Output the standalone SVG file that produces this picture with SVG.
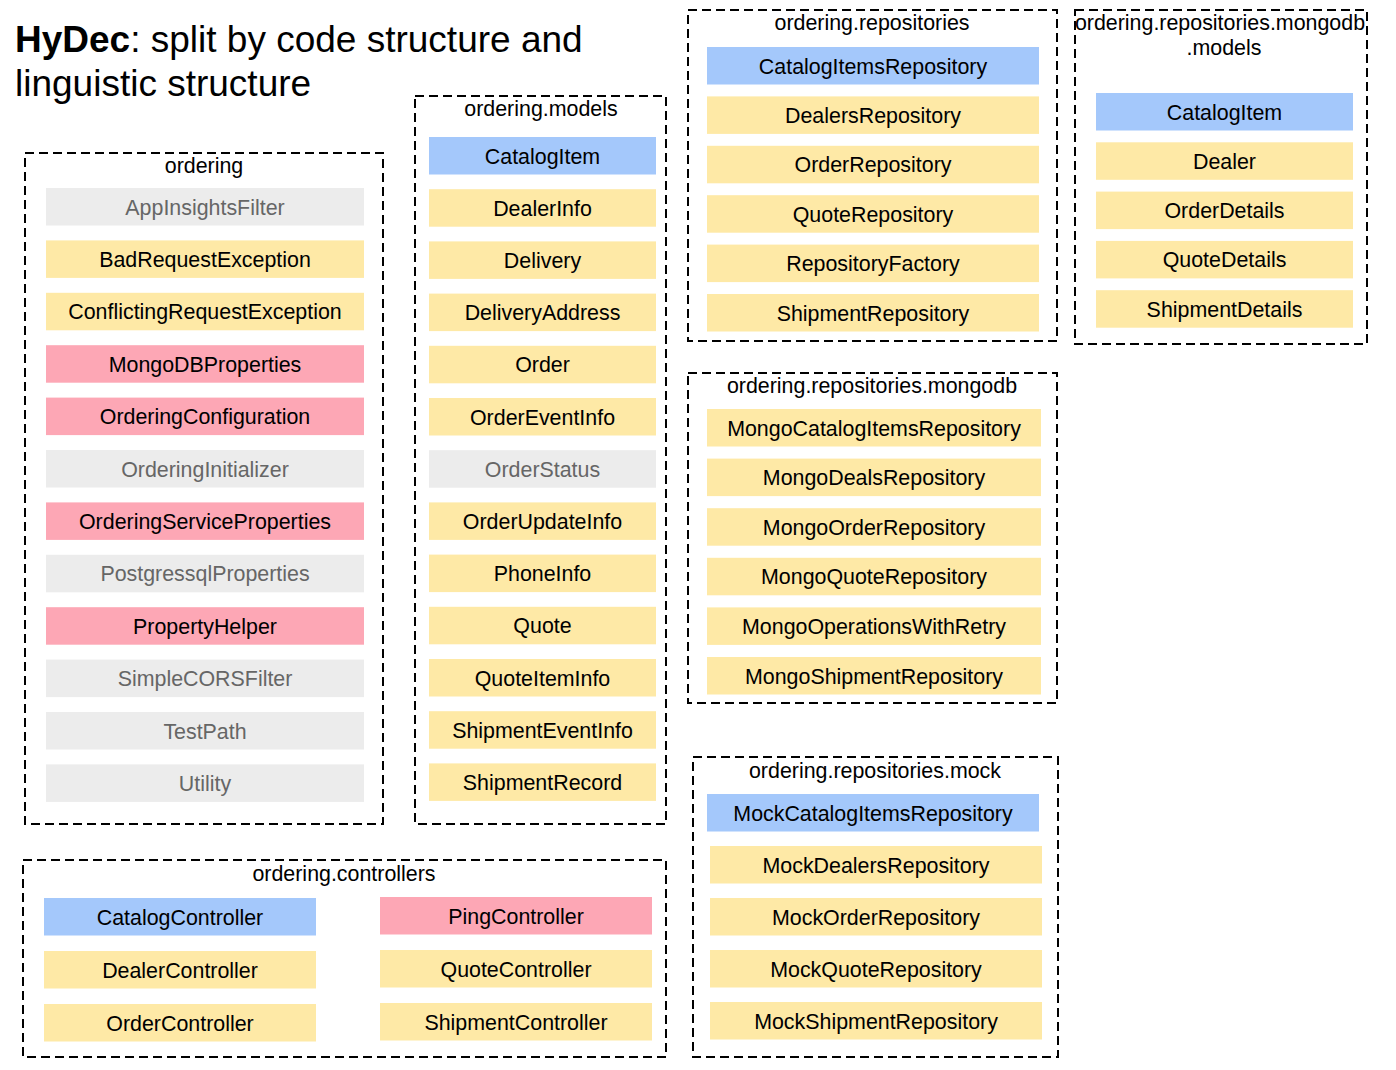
<svg xmlns="http://www.w3.org/2000/svg" width="1396" height="1070" viewBox="0 0 1396 1070">
<style>
text{font-family:"Liberation Sans",Arial,sans-serif;font-size:21.4px;fill:#000;text-anchor:middle}
.c{fill:none;stroke:#000;stroke-width:2;stroke-dasharray:9 5}
.b{fill:#a4c8fb}
.y{fill:#fee9a6}
.p{fill:#fda7b5}
.g{fill:#ececec}
.gt{fill:#666}
.h{font-size:37px;text-anchor:start}
</style>
<rect width="1396" height="1070" fill="#fff"/>
<g id="title">
<text class="h" x="15" y="52"><tspan font-weight="bold">HyDec</tspan>: split by code structure and</text>
<text class="h" x="15" y="96">linguistic structure</text>
</g>
<g id="connectors"></g>

<g id="ordering">
<rect class="c" x="25" y="153" width="358" height="671"/>
<text x="204" y="173">ordering</text>
<g id="AppInsightsFilter"><rect class="g" x="46" y="188" width="318" height="37.5"/><text class="gt" x="205" y="214.5">AppInsightsFilter</text></g>
<g id="BadRequestException"><rect class="y" x="46" y="240.4" width="318" height="37.5"/><text x="205" y="266.9">BadRequestException</text></g>
<g id="ConflictingRequestException"><rect class="y" x="46" y="292.8" width="318" height="37.5"/><text x="205" y="319.3">ConflictingRequestException</text></g>
<g id="MongoDBProperties"><rect class="p" x="46" y="345.2" width="318" height="37.5"/><text x="205" y="371.7">MongoDBProperties</text></g>
<g id="OrderingConfiguration"><rect class="p" x="46" y="397.6" width="318" height="37.5"/><text x="205" y="424.1">OrderingConfiguration</text></g>
<g id="OrderingInitializer"><rect class="g" x="46" y="450" width="318" height="37.5"/><text class="gt" x="205" y="476.5">OrderingInitializer</text></g>
<g id="OrderingServiceProperties"><rect class="p" x="46" y="502.4" width="318" height="37.5"/><text x="205" y="528.9">OrderingServiceProperties</text></g>
<g id="PostgressqlProperties"><rect class="g" x="46" y="554.8" width="318" height="37.5"/><text class="gt" x="205" y="581.3">PostgressqlProperties</text></g>
<g id="PropertyHelper"><rect class="p" x="46" y="607.2" width="318" height="37.5"/><text x="205" y="633.7">PropertyHelper</text></g>
<g id="SimpleCORSFilter"><rect class="g" x="46" y="659.6" width="318" height="37.5"/><text class="gt" x="205" y="686.1">SimpleCORSFilter</text></g>
<g id="TestPath"><rect class="g" x="46" y="712" width="318" height="37.5"/><text class="gt" x="205" y="738.5">TestPath</text></g>
<g id="Utility"><rect class="g" x="46" y="764.4" width="318" height="37.5"/><text class="gt" x="205" y="790.9">Utility</text></g>
</g>

<g id="ordering.models">
<rect class="c" x="415" y="96" width="251" height="728"/>
<text x="541" y="116">ordering.models</text>
<g id="models.CatalogItem"><rect class="b" x="429" y="137" width="227" height="37.5"/><text x="542.5" y="163.5">CatalogItem</text></g>
<g id="DealerInfo"><rect class="y" x="429" y="189.2" width="227" height="37.5"/><text x="542.5" y="215.7">DealerInfo</text></g>
<g id="Delivery"><rect class="y" x="429" y="241.4" width="227" height="37.5"/><text x="542.5" y="267.9">Delivery</text></g>
<g id="DeliveryAddress"><rect class="y" x="429" y="293.6" width="227" height="37.5"/><text x="542.5" y="320.1">DeliveryAddress</text></g>
<g id="Order"><rect class="y" x="429" y="345.8" width="227" height="37.5"/><text x="542.5" y="372.3">Order</text></g>
<g id="OrderEventInfo"><rect class="y" x="429" y="398" width="227" height="37.5"/><text x="542.5" y="424.5">OrderEventInfo</text></g>
<g id="OrderStatus"><rect class="g" x="429" y="450.2" width="227" height="37.5"/><text class="gt" x="542.5" y="476.7">OrderStatus</text></g>
<g id="OrderUpdateInfo"><rect class="y" x="429" y="502.4" width="227" height="37.5"/><text x="542.5" y="528.9">OrderUpdateInfo</text></g>
<g id="PhoneInfo"><rect class="y" x="429" y="554.6" width="227" height="37.5"/><text x="542.5" y="581.1">PhoneInfo</text></g>
<g id="Quote"><rect class="y" x="429" y="606.8" width="227" height="37.5"/><text x="542.5" y="633.3">Quote</text></g>
<g id="QuoteItemInfo"><rect class="y" x="429" y="659" width="227" height="37.5"/><text x="542.5" y="685.5">QuoteItemInfo</text></g>
<g id="ShipmentEventInfo"><rect class="y" x="429" y="711.2" width="227" height="37.5"/><text x="542.5" y="737.7">ShipmentEventInfo</text></g>
<g id="ShipmentRecord"><rect class="y" x="429" y="763.4" width="227" height="37.5"/><text x="542.5" y="789.9">ShipmentRecord</text></g>
</g>

<g id="ordering.repositories">
<rect class="c" x="688" y="10" width="369" height="331"/>
<text x="872" y="30">ordering.repositories</text>
<g id="CatalogItemsRepository"><rect class="b" x="707" y="47" width="332" height="37.5"/><text x="873" y="73.5">CatalogItemsRepository</text></g>
<g id="DealersRepository"><rect class="y" x="707" y="96.4" width="332" height="37.5"/><text x="873" y="122.9">DealersRepository</text></g>
<g id="OrderRepository"><rect class="y" x="707" y="145.8" width="332" height="37.5"/><text x="873" y="172.3">OrderRepository</text></g>
<g id="QuoteRepository"><rect class="y" x="707" y="195.2" width="332" height="37.5"/><text x="873" y="221.7">QuoteRepository</text></g>
<g id="RepositoryFactory"><rect class="y" x="707" y="244.6" width="332" height="37.5"/><text x="873" y="271.1">RepositoryFactory</text></g>
<g id="ShipmentRepository"><rect class="y" x="707" y="294" width="332" height="37.5"/><text x="873" y="320.5">ShipmentRepository</text></g>
</g>

<g id="ordering.repositories.mongodb.models">
<rect class="c" x="1075" y="10" width="292" height="334"/>
<text x="1220" y="30">ordering.repositories.mongodb</text>
<text x="1224" y="55">.models</text>
<g id="mongodb.models.CatalogItem"><rect class="b" x="1096" y="93" width="257" height="37.5"/><text x="1224.5" y="119.5">CatalogItem</text></g>
<g id="Dealer"><rect class="y" x="1096" y="142.3" width="257" height="37.5"/><text x="1224.5" y="168.8">Dealer</text></g>
<g id="OrderDetails"><rect class="y" x="1096" y="191.6" width="257" height="37.5"/><text x="1224.5" y="218.1">OrderDetails</text></g>
<g id="QuoteDetails"><rect class="y" x="1096" y="240.9" width="257" height="37.5"/><text x="1224.5" y="267.4">QuoteDetails</text></g>
<g id="ShipmentDetails"><rect class="y" x="1096" y="290.2" width="257" height="37.5"/><text x="1224.5" y="316.7">ShipmentDetails</text></g>
</g>

<g id="ordering.repositories.mongodb">
<rect class="c" x="688" y="373" width="369" height="330"/>
<text x="872" y="393">ordering.repositories.mongodb</text>
<g id="MongoCatalogItemsRepository"><rect class="y" x="707" y="409" width="334" height="37.5"/><text x="874" y="435.5">MongoCatalogItemsRepository</text></g>
<g id="MongoDealsRepository"><rect class="y" x="707" y="458.6" width="334" height="37.5"/><text x="874" y="485.1">MongoDealsRepository</text></g>
<g id="MongoOrderRepository"><rect class="y" x="707" y="508.2" width="334" height="37.5"/><text x="874" y="534.7">MongoOrderRepository</text></g>
<g id="MongoQuoteRepository"><rect class="y" x="707" y="557.8" width="334" height="37.5"/><text x="874" y="584.3">MongoQuoteRepository</text></g>
<g id="MongoOperationsWithRetry"><rect class="y" x="707" y="607.4" width="334" height="37.5"/><text x="874" y="633.9">MongoOperationsWithRetry</text></g>
<g id="MongoShipmentRepository"><rect class="y" x="707" y="657" width="334" height="37.5"/><text x="874" y="683.5">MongoShipmentRepository</text></g>
</g>

<g id="ordering.repositories.mock">
<rect class="c" x="693" y="757" width="365" height="300"/>
<text x="875" y="778">ordering.repositories.mock</text>
<g id="MockCatalogItemsRepository"><rect class="b" x="707" y="794" width="332" height="37.5"/><text x="873" y="820.5">MockCatalogItemsRepository</text></g>
<g id="MockDealersRepository"><rect class="y" x="710" y="846" width="332" height="37.5"/><text x="876" y="872.5">MockDealersRepository</text></g>
<g id="MockOrderRepository"><rect class="y" x="710" y="898" width="332" height="37.5"/><text x="876" y="924.5">MockOrderRepository</text></g>
<g id="MockQuoteRepository"><rect class="y" x="710" y="950" width="332" height="37.5"/><text x="876" y="976.5">MockQuoteRepository</text></g>
<g id="MockShipmentRepository"><rect class="y" x="710" y="1002" width="332" height="37.5"/><text x="876" y="1028.5">MockShipmentRepository</text></g>
</g>

<g id="ordering.controllers">
<rect class="c" x="23" y="860" width="643" height="197"/>
<text x="344" y="881">ordering.controllers</text>
<g id="CatalogController"><rect class="b" x="44" y="898" width="272" height="37.5"/><text x="180" y="924.5">CatalogController</text></g>
<g id="DealerController"><rect class="y" x="44" y="951" width="272" height="37.5"/><text x="180" y="977.5">DealerController</text></g>
<g id="OrderController"><rect class="y" x="44" y="1004" width="272" height="37.5"/><text x="180" y="1030.5">OrderController</text></g>
<g id="PingController"><rect class="p" x="380" y="897" width="272" height="37.5"/><text x="516" y="923.5">PingController</text></g>
<g id="QuoteController"><rect class="y" x="380" y="950" width="272" height="37.5"/><text x="516" y="976.5">QuoteController</text></g>
<g id="ShipmentController"><rect class="y" x="380" y="1003" width="272" height="37.5"/><text x="516" y="1029.5">ShipmentController</text></g>
</g>
</svg>
